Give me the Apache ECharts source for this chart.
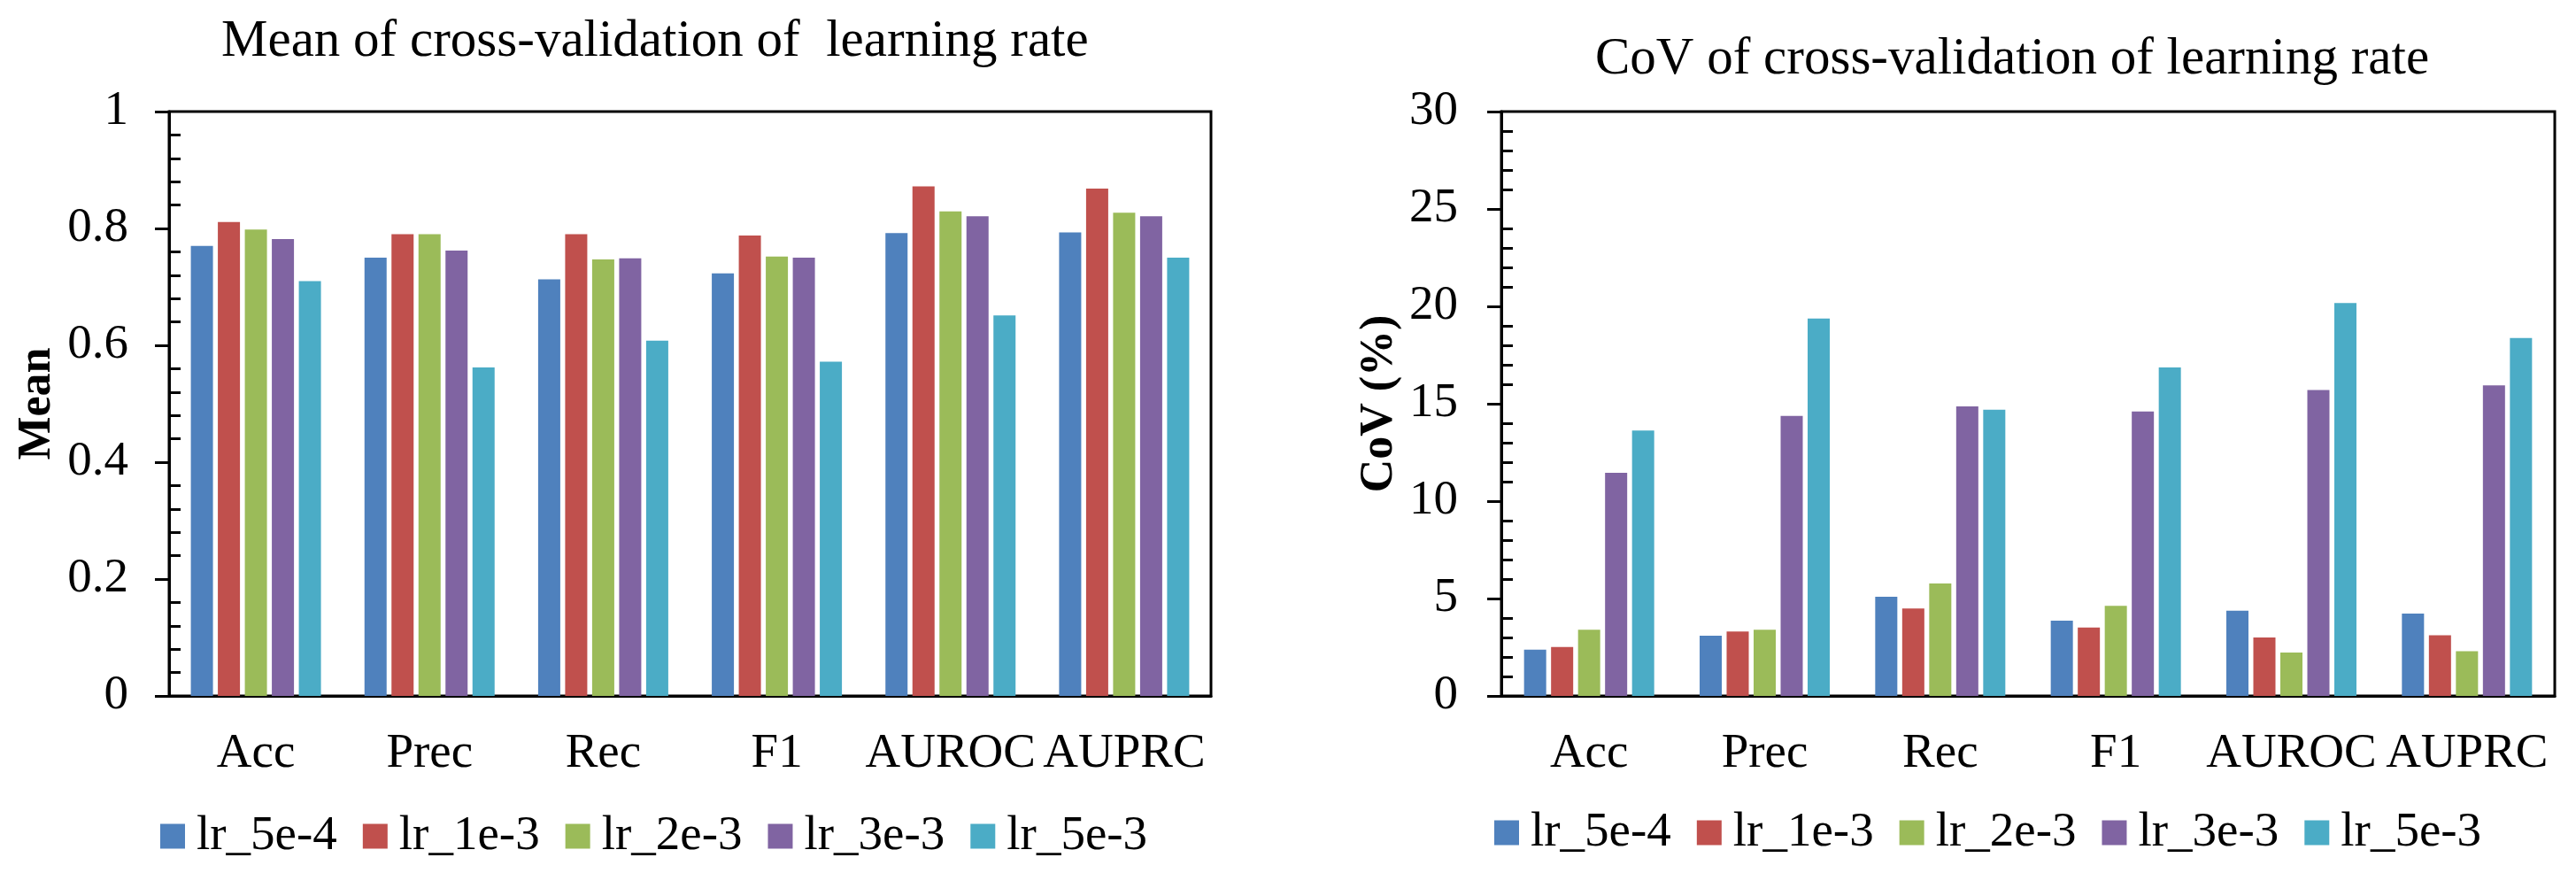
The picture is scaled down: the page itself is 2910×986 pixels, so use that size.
<!DOCTYPE html>
<html>
<head>
<meta charset="utf-8">
<title>learning rate cross-validation</title>
<script src="https://cdn.jsdelivr.net/npm/echarts@6/dist/echarts.min.js"></script>
<style>
  html, body { margin: 0; padding: 0; background: #ffffff; }
  #main { width: 2910px; height: 986px; }
</style>
</head>
<body>
<div id="main"></div>
<script>
var categories = ['Acc', 'Prec', 'Rec', 'F1', 'AUROC', 'AUPRC'];
var seriesNames = ['lr_5e-4', 'lr_1e-3', 'lr_2e-3', 'lr_3e-3', 'lr_5e-3'];
var colors = ['#4F81BD', '#C0504D', '#9BBB59', '#8064A2', '#4BACC6'];

// mean values, one array per learning rate (Acc .. AUPRC)
var mean_5e4 = [0.770, 0.750, 0.713, 0.723, 0.792, 0.793];
var mean_1e3 = [0.811, 0.790, 0.790, 0.788, 0.872, 0.868];
var mean_2e3 = [0.798, 0.790, 0.747, 0.752, 0.829, 0.827];
var mean_3e3 = [0.782, 0.762, 0.749, 0.750, 0.821, 0.821];
var mean_5e3 = [0.710, 0.562, 0.608, 0.572, 0.651, 0.750];

// CoV values (%)
var cov_5e4 = [2.37, 3.09, 5.09, 3.86, 4.37, 4.23];
var cov_1e3 = [2.51, 3.31, 4.49, 3.51, 3.00, 3.11];
var cov_2e3 = [3.40, 3.40, 5.77, 4.63, 2.23, 2.29];
var cov_3e3 = [11.46, 14.37, 14.86, 14.60, 15.71, 15.94];
var cov_5e3 = [13.63, 19.37, 14.69, 16.86, 20.17, 18.37];

var meanTicks = [0, 1, 0.2];
var covTicks = [0, 30, 5];

var FONT = "'Liberation Serif', 'Times New Roman', serif";

var meanData = [mean_5e4, mean_1e3, mean_2e3, mean_3e3, mean_5e3];
var covData = [cov_5e4, cov_1e3, cov_2e3, cov_3e3, cov_5e3];

function makeSeries(data, idx) {
  var series = [];
  for (var i = 0; i < seriesNames.length; i++) {
    series.push({
      name: seriesNames[i],
      type: 'bar',
      xAxisIndex: idx,
      yAxisIndex: idx,
      data: data[i],
      barWidth: 25,
      barGap: '22%',
      itemStyle: { color: colors[i] },
      animation: false
    });
  }
  return series;
}

function xAxisOf(idx) {
  return {
    type: 'category',
    gridIndex: idx,
    data: categories,
    axisLine: { lineStyle: { color: '#000', width: 3 } },
    axisTick: { show: false },
    axisLabel: { color: '#000', fontFamily: FONT, fontSize: 55, margin: 38, interval: 0 }
  };
}

function yAxisOf(idx, ticks, name, gap, margin) {
  return {
    type: 'value',
    gridIndex: idx,
    min: ticks[0],
    max: ticks[1],
    interval: ticks[2],
    name: name,
    nameLocation: 'middle',
    nameGap: gap,
    nameTextStyle: { color: '#000', fontFamily: FONT, fontSize: 52, fontWeight: 'bold' },
    axisLine: { show: true, lineStyle: { color: '#000', width: 3 } },
    axisTick: { show: true, length: 16, lineStyle: { color: '#000', width: 3 } },
    minorTick: { show: true, splitNumber: 5, length: -13, lineStyle: { color: '#000', width: 3 } },
    splitLine: { show: false },
    axisLabel: { color: '#000', fontFamily: FONT, fontSize: 55, margin: margin }
  };
}

var chart = echarts.init(document.getElementById('main'), null, { renderer: 'canvas' });

var option = {
  backgroundColor: '#ffffff',
  color: colors,
  title: [
    {
      text: 'Mean of cross-validation of  learning rate',
      left: 245,
      top: 13,
      textStyle: { color: '#000', fontFamily: FONT, fontSize: 59, fontWeight: 'normal' }
    },
    {
      text: 'CoV of cross-validation of learning rate',
      left: 1797,
      top: 33,
      textStyle: { color: '#000', fontFamily: FONT, fontSize: 59, fontWeight: 'normal' }
    }
  ],
  legend: [
    {
      data: seriesNames,
      left: 176,
      top: 912,
      itemWidth: 28,
      itemHeight: 28,
      itemGap: 29,
      icon: 'rect',
      textStyle: { color: '#000', fontFamily: FONT, fontSize: 55, padding: [0, 0, 0, 8] }
    },
    {
      data: seriesNames,
      left: 1683,
      top: 908,
      itemWidth: 28,
      itemHeight: 28,
      itemGap: 29,
      icon: 'rect',
      textStyle: { color: '#000', fontFamily: FONT, fontSize: 55, padding: [0, 0, 0, 8] }
    }
  ],
  grid: [
    { left: 191, right: 1542, top: 126, bottom: 200, show: true, borderColor: '#000', borderWidth: 3 },
    { left: 1696, right: 24, top: 126, bottom: 200, show: true, borderColor: '#000', borderWidth: 3 }
  ],
  xAxis: [xAxisOf(0), xAxisOf(1)],
  yAxis: [
    yAxisOf(0, meanTicks, 'Mean', 122, 46),
    yAxisOf(1, covTicks, 'CoV (%)', 111, 49)
  ],
  series: makeSeries(meanData, 0).concat(makeSeries(covData, 1))
};

chart.setOption(option);
</script>
</body>
</html>
